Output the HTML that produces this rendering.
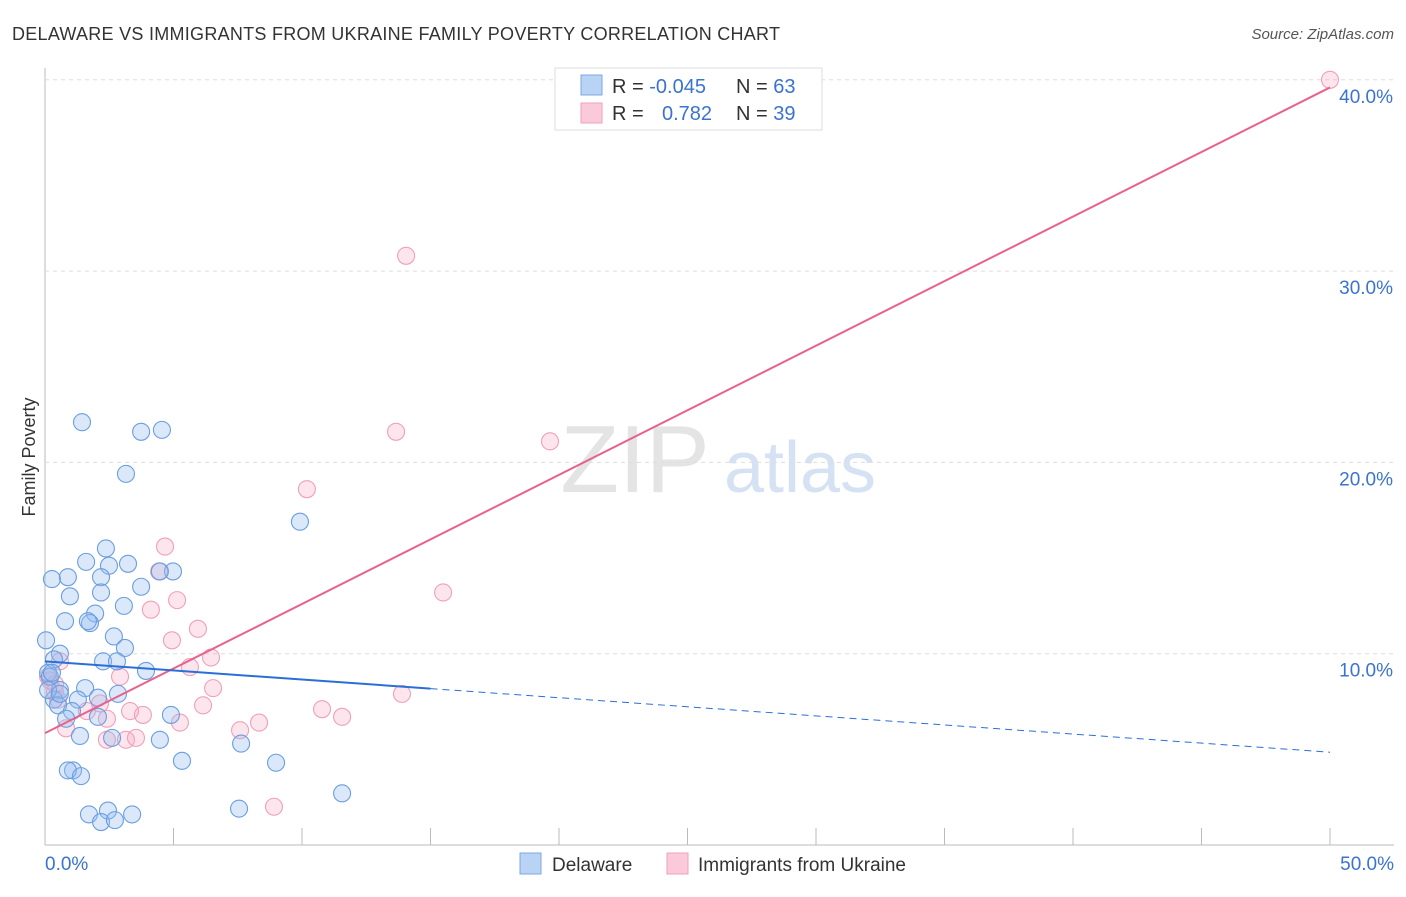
<!DOCTYPE html>
<html><head><meta charset="utf-8"><style>
body{margin:0;background:#fff;font-family:"Liberation Sans",sans-serif;}
svg text{font-family:"Liberation Sans",sans-serif;}
</style></head><body>
<svg id="chart" width="1406" height="892" xmlns="http://www.w3.org/2000/svg">
<text x="12" y="40" font-size="18" fill="#333" textLength="768">DELAWARE VS IMMIGRANTS FROM UKRAINE FAMILY POVERTY CORRELATION CHART</text>
<text x="1394" y="39" font-size="15" fill="#555" font-style="italic" text-anchor="end">Source: ZipAtlas.com</text>
<text x="35" y="457" font-size="18" fill="#333" text-anchor="middle" transform="rotate(-90 35 457)">Family Poverty</text>
<g><text x="635" y="492" font-size="96" fill="#e4e4e4" font-family="Liberation Serif" text-anchor="middle">ZIP</text><text x="800" y="492" font-size="72" fill="#d4e2f4" text-anchor="middle">atlas</text></g>
<g id="grid"></g><g id="marks"></g>
<g>
<rect x="555" y="68" width="267" height="62" fill="#fff" stroke="#ddd"/>
<rect x="581" y="75" width="21" height="20" fill="#b9d3f5" stroke="#7aa7e6"/>
<rect x="581" y="103" width="21" height="20" fill="#fbcada" stroke="#f0a0b8"/>
<text x="612" y="93" font-size="20" fill="#333">R = <tspan fill="#3a73d0">-0.045</tspan></text>
<text x="736" y="93" font-size="20" fill="#333">N = <tspan fill="#3a73d0">63</tspan></text>
<text x="612" y="120" font-size="20" fill="#333">R = <tspan fill="#3a73d0" x="662">0.782</tspan></text>
<text x="736" y="120" font-size="20" fill="#333">N = <tspan fill="#3a73d0">39</tspan></text>
</g>
<g>
<rect x="520" y="853" width="21" height="21" fill="#b9d3f5" stroke="#7aa7e6"/>
<text x="552" y="871" font-size="19" fill="#333">Delaware</text>
<rect x="667" y="853" width="21" height="21" fill="#fbcada" stroke="#f0a0b8"/>
<text x="698" y="871" font-size="19" fill="#333">Immigrants from Ukraine</text>
</g>
</svg>
<script>
const xTicks=[0,5,10,15,20,25,30,35,40,45,50];
const yTicks=[10,20,30,40];
const yTickLabels=["10.0%","20.0%","30.0%","40.0%"];
const delX=[1.44,3.74,4.55,3.15,9.92,2.37,1.60,3.23,2.49,0.27,0.89,2.18,3.74,4.98,4.47,2.18,0.97,3.07,1.95,1.75,1.67,0.78,2.68,3.11,0.04,0.58,0.35,2.26,2.80,3.93,0.12,0.19,1.56,2.84,0.58,0.35,0.51,1.28,1.05,0.82,2.06,1.36,4.90,2.61,4.47,7.63,5.33,8.99,1.09,0.89,1.40,11.56,7.55,1.71,2.45,3.39,2.18,2.72,0.12,0.27,0.58,2.06];
const delY=[22.1,21.6,21.7,19.4,16.9,15.5,14.8,14.7,14.6,13.9,14.0,14.0,13.5,14.3,14.3,13.2,13.0,12.5,12.1,11.6,11.7,11.7,10.9,10.3,10.7,10.0,9.7,9.6,9.6,9.1,9.0,8.8,8.2,7.9,8.1,7.6,7.3,7.6,7.0,6.6,6.7,5.7,6.8,5.6,5.5,5.3,4.4,4.3,3.9,3.9,3.6,2.7,1.9,1.6,1.8,1.6,1.2,1.3,8.1,9.0,7.9,7.7];
const ukrX=[50.0,14.05,13.66,19.65,10.19,4.67,4.44,5.14,15.49,4.12,4.94,5.95,6.46,5.64,0.58,0.39,0.51,6.54,2.92,6.15,2.14,10.78,11.56,3.31,3.81,1.63,2.41,0.82,5.25,8.33,7.59,2.41,3.15,3.54,13.89,8.91,0.19,0.12,0.39];
const ukrY=[40.0,30.8,21.6,21.1,18.6,15.6,14.3,12.8,13.2,12.3,10.7,11.3,9.8,9.3,9.6,8.0,7.6,8.2,8.8,7.3,7.4,7.1,6.7,7.0,6.8,7.0,6.6,6.1,6.4,6.4,6.0,5.5,5.5,5.6,7.9,2.0,8.6,8.8,8.4];
const delFit=[9.6,-0.095]; // intercept, slope
const ukrFit=[5.85,0.675];
const NS="http://www.w3.org/2000/svg";
const X=v=>45+v*25.7, Y=v=>845-v*19.13;
function mk(t,a,p){const e=document.createElementNS(NS,t);for(const k in a)e.setAttribute(k,a[k]);p.appendChild(e);return e;}
const grid=document.getElementById('grid'),marks=document.getElementById('marks');
let ax=mk('line',{x1:45,y1:68,x2:45,y2:845,stroke:'#bbb'},grid);


let bx=mk('line',{x1:45,y1:845,x2:1394,y2:845,stroke:'#bbb'},grid);


yTicks.forEach((t,i)=>{
 let g=mk('line',{x1:45,y1:Y(t),x2:1394,y2:Y(t),stroke:'#ddd','stroke-dasharray':'4,4'},grid);
 
 
 let l=mk('text',{x:1393,y:Y(t)+23,'font-size':19,fill:'#3a73d0','text-anchor':'end'},grid);l.textContent=yTickLabels[i];
 
 
});
xTicks.forEach(t=>{
 let k=mk('line',{x1:X(t),y1:828,x2:X(t),y2:845,stroke:'#bbb'},grid);
 
 
});
[[0,"0.0%",'start',45],[50,"50.0%",'end',1394]].forEach(a=>{
 let l=mk('text',{x:a[3],y:870,'font-size':19,fill:'#3a73d0','text-anchor':a[2]},grid);l.textContent=a[1];
 
 
});
ukrX.forEach((x,i)=>{
 let c=mk('circle',{cx:X(x),cy:Y(ukrY[i]),r:8.5,fill:'rgba(248,170,195,0.3)',stroke:'#f0a0b8','stroke-width':1.1},marks);
 
 
});
delX.forEach((x,i)=>{
 let c=mk('circle',{cx:X(x),cy:Y(delY[i]),r:8.5,fill:'rgba(150,190,240,0.35)',stroke:'#6a9ee0','stroke-width':1.1},marks);
 
 
});
let pl=mk('line',{x1:X(0),y1:Y(ukrFit[0]),x2:X(50),y2:Y(ukrFit[0]+ukrFit[1]*50),stroke:'#e8628c','stroke-width':2},marks);


let bl=mk('line',{x1:X(0),y1:Y(delFit[0]),x2:X(15),y2:Y(delFit[0]+delFit[1]*15),stroke:'#2a6fd6','stroke-width':2},marks);


let bd=mk('line',{x1:X(15),y1:Y(delFit[0]+delFit[1]*15),x2:X(50),y2:Y(delFit[0]+delFit[1]*50),stroke:'#2a6fd6','stroke-width':1,'stroke-dasharray':'7,5'},marks);


</script>
</body></html>
